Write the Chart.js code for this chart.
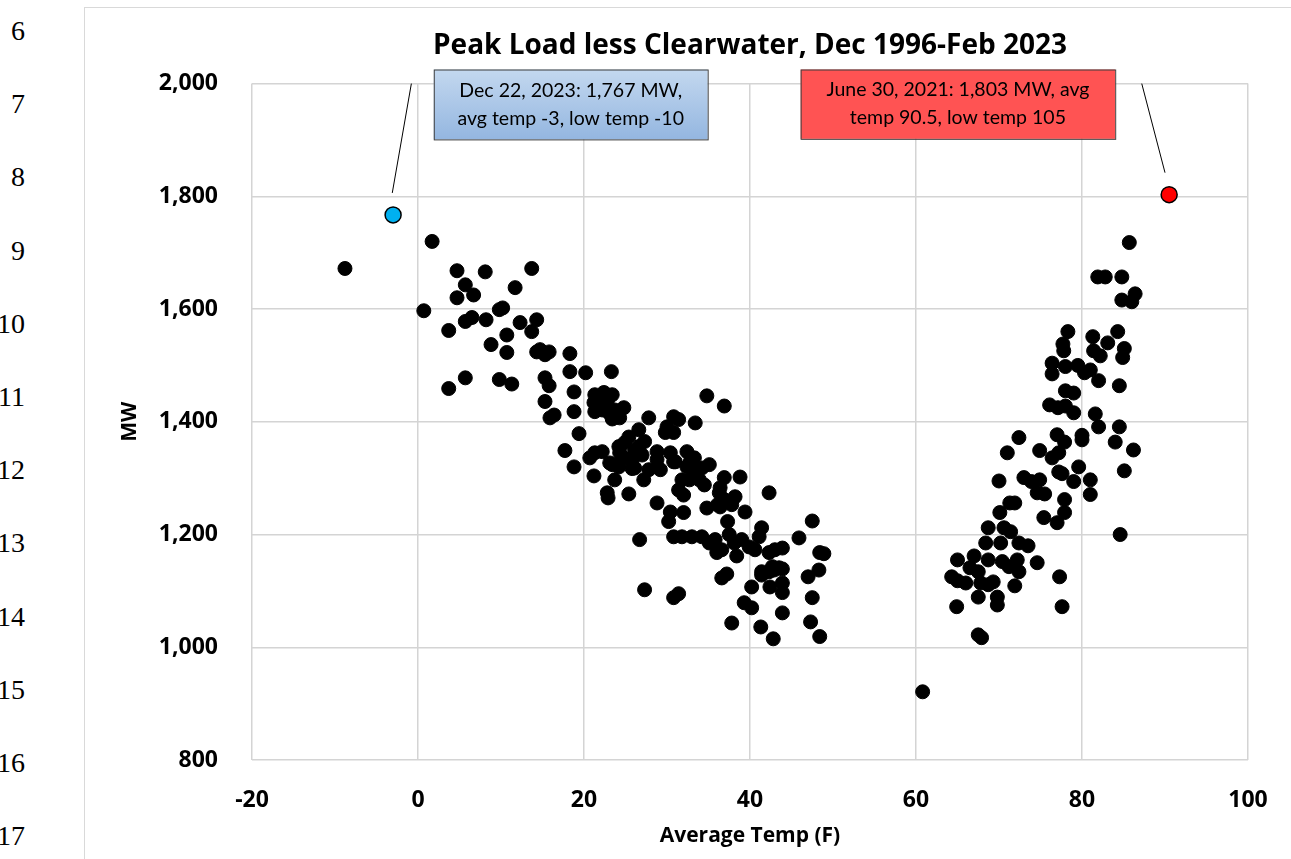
<!DOCTYPE html>
<html>
<head>
<meta charset="utf-8">
<script src="https://cdn.jsdelivr.net/npm/chart.js@4.4.1/dist/chart.umd.min.js"></script>
<style>
  body { margin: 0; background: #fff; width: 1291px; height: 859px; overflow: hidden; position: relative; }
  #frame { position: absolute; left: 84px; top: 7px; width: 1240px; height: 880px; border: 1px solid #d9d9d9; }
  #wrap { position: absolute; left: 85px; top: 8px; width: 1206px; height: 851px; }
  .row { position: absolute; right: 1266px; font: 28px "Liberation Serif", serif; line-height: 28px; color: #000; }
</style>
</head>
<body>
<div id="rows"></div>
<div id="frame"></div>
<div id="wrap"><canvas id="scatter" width="1206" height="851"></canvas></div>
<script>
// cold side (winter peaks)
const coldTemp = [-8.8, 1.7, 0.7, 3.7, 3.7, 4.7, 4.7, 5.7, 5.7, 5.7, 6.5, 6.7, 8.1, 8.2, 8.8, 9.8, 10.2, 9.8, 10.7, 10.7,
  11.3, 11.7, 12.3, 13.7, 13.7, 14.3, 14.3, 14.7, 15.3, 15.8, 15.3, 15.8, 15.3, 15.9, 16.4, 17.7, 18.3, 18.3, 18.8, 18.8,
  18.8, 19.4, 20.2, 20.7, 21.2, 21.3, 22.4, 23.4, 21.2, 21.9, 22.8, 21.3, 22.2, 23.0, 23.7, 24.8, 23.4, 24.3, 27.8, 21.3,
  22.2, 23.4, 22.8, 22.9, 23.3, 23.7, 24.2, 24.3, 24.6, 25.4, 26.6, 27.3, 25.4, 26.6, 25.8, 27.0, 24.9, 26.1, 25.8, 23.1,
  24.2, 26.1, 28.8, 28.8, 30.4, 30.8, 27.8, 27.2, 25.4, 26.7, 27.3, 28.8, 30.8, 31.4, 30.0, 29.8, 30.8, 33.4, 32.4, 33.3,
  32.4, 33.3, 34.2, 35.1, 31.8, 32.7, 33.9, 34.5, 31.4, 32.0, 36.9, 36.4, 36.3, 38.8, 38.2, 37.8, 36.4, 34.8, 39.4, 30.4,
  30.2, 32.0, 37.3, 30.8, 31.8, 33.0, 34.2, 35.1, 35.8, 36.6, 36.0, 37.5, 38.1, 39.0, 38.4, 39.9, 40.6, 41.4, 41.1, 42.3,
  43.0, 37.2, 36.6, 41.4, 42.7, 43.5, 34.8, 36.9, 42.3, 47.5, 45.9, 48.4, 48.9, 48.3, 47.0, 47.5, 47.3, 48.4, 37.8, 41.3,
  42.8, 43.9, 39.3, 40.2, 43.9, 43.9, 42.4, 40.2, 41.4, 42.3, 42.9, 43.9, 43.9, 30.8, 31.4, 36.1, 36.9, 32.8, 31.0, 29.2];
const coldMW = [1672, 1720, 1597, 1562, 1459, 1668, 1620, 1643, 1578, 1478, 1585, 1625, 1666, 1581, 1537, 1599, 1602, 1475, 1554, 1523,
  1467, 1638, 1576, 1672, 1560, 1581, 1524, 1528, 1519, 1524, 1478, 1464, 1436, 1407, 1412, 1349, 1521, 1489, 1453, 1418,
  1320, 1379, 1487, 1336, 1304, 1448, 1452, 1448, 1434, 1430, 1436, 1418, 1421, 1416, 1421, 1425, 1405, 1407, 1407, 1345,
  1347, 1324, 1274, 1265, 1489, 1297, 1356, 1345, 1338, 1373, 1386, 1365, 1334, 1356, 1317, 1341, 1363, 1349, 1333, 1327,
  1320, 1318, 1347, 1333, 1345, 1329, 1315, 1297, 1272, 1191, 1102, 1256, 1409, 1404, 1391, 1381, 1381, 1398, 1347, 1336,
  1320, 1315, 1318, 1324, 1297, 1297, 1297, 1288, 1279, 1270, 1301, 1283, 1274, 1302, 1267, 1253, 1249, 1247, 1240, 1240,
  1223, 1239, 1223, 1196, 1196, 1196, 1196, 1185, 1191, 1173, 1168, 1200, 1185, 1191, 1162, 1178, 1173, 1212, 1196, 1168,
  1173, 1130, 1123, 1134, 1143, 1141, 1446, 1428, 1274, 1224, 1194, 1168, 1166, 1137, 1125, 1088, 1045, 1019, 1043, 1036,
  1015, 1061, 1079, 1070, 1097, 1114, 1107, 1107, 1128, 1134, 1137, 1139, 1176, 1088, 1095, 1253, 1262, 1329, 1329, 1315];

// hot side (summer peaks)
const hotTemp = [60.8, 64.3, 65.0, 66.0, 65.0, 67.0, 66.5, 67.5, 67.8, 68.7, 69.3, 67.5, 69.8, 69.8, 64.9, 67.5, 67.9, 68.7, 68.4, 68.7,
  70.1, 71.3, 71.9, 70.6, 71.4, 70.2, 72.4, 73.5, 70.4, 71.2, 72.2, 72.4, 71.9, 74.6, 74.6, 75.5, 75.4, 77.0, 77.3, 77.6,
  85.7, 81.9, 82.8, 84.8, 86.4, 84.8, 86.0, 78.3, 81.3, 84.3, 83.1, 85.1, 84.9, 77.7, 77.8, 81.4, 82.2, 76.4, 78.0, 79.5,
  81.0, 76.4, 80.3, 82.0, 84.5, 78.0, 79.0, 76.1, 77.1, 78.0, 79.0, 81.6, 82.0, 84.5, 84.0, 86.2, 85.1, 72.4, 71.0, 74.9,
  77.0, 77.9, 77.2, 76.4, 80.0, 80.0, 79.6, 77.2, 77.6, 79.0, 81.0, 81.0, 70.0, 73.0, 73.9, 74.9, 77.9, 77.9, 84.6];
const hotMW = [921, 1125, 1118, 1114, 1155, 1162, 1141, 1134, 1114, 1111, 1116, 1089, 1089, 1075, 1072, 1022, 1017, 1155, 1185, 1212,
  1239, 1256, 1256, 1212, 1205, 1185, 1185, 1180, 1152, 1143, 1155, 1134, 1109, 1150, 1274, 1272, 1230, 1221, 1125, 1072,
  1718, 1657, 1657, 1657, 1627, 1616, 1613, 1560, 1551, 1560, 1540, 1530, 1514, 1538, 1526, 1526, 1517, 1504, 1498, 1500,
  1492, 1485, 1487, 1473, 1464, 1455, 1451, 1430, 1425, 1428, 1416, 1414, 1391, 1391, 1364, 1350, 1313, 1372, 1345, 1349,
  1377, 1364, 1345, 1336, 1376, 1368, 1320, 1311, 1308, 1294, 1297, 1271, 1295, 1301, 1294, 1297, 1262, 1239, 1200];

// record days
const coldRecord = { temp: -3, mw: 1767 };
const hotRecord = { temp: 90.5, mw: 1803 };
const coldNote = ['Dec 22, 2023: 1,767 MW,', 'avg temp -3, low temp -10'];
const hotNote = ['June 30, 2021: 1,803 MW, avg', 'temp 90.5, low temp 105'];
// callout boxes and leader lines in data units: [x1, y1, x2, y2]
const coldBox = [1.9, 2025, 34.9, 1901];
const hotBox = [46.1, 2025, 84.0, 1902];
const coldLeader = [-0.8, 2000, -3.1, 1806];
const hotLeader = [87.2, 2000, 90.0, 1842];

const rowNums = [6, 7, 8, 9, 10, 11, 12, 13, 14, 15, 16, 17];

const rowsDiv = document.getElementById('rows');
rowNums.forEach((n, i) => {
  const d = document.createElement('div');
  d.className = 'row';
  d.style.top = (17 + i * 73.2) + 'px';
  d.textContent = n;
  rowsDiv.appendChild(d);
});

const pairs = (xs, ys) => xs.map((x, i) => ({ x: x, y: ys[i] }));
const gridCol = '#d4d4d4';
const tickFont = { family: 'Open Sans', size: 23, weight: 'bold' };
const axisFont = { family: 'Open Sans', size: 21, weight: 'bold' };

const callouts = {
  id: 'callouts',
  afterDatasetsDraw(chart) {
    const ctx = chart.ctx, xs = chart.scales.x, ys = chart.scales.y;
    const line = (l) => {
      ctx.beginPath();
      ctx.moveTo(xs.getPixelForValue(l[0]), ys.getPixelForValue(l[1]));
      ctx.lineTo(xs.getPixelForValue(l[2]), ys.getPixelForValue(l[3]));
      ctx.strokeStyle = '#000';
      ctx.lineWidth = 1;
      ctx.stroke();
    };
    const box = (b, fill, lines) => {
      const x1 = xs.getPixelForValue(b[0]), y1 = ys.getPixelForValue(b[1]);
      const x2 = xs.getPixelForValue(b[2]), y2 = ys.getPixelForValue(b[3]);
      let f = fill;
      if (Array.isArray(fill)) {
        f = ctx.createLinearGradient(0, y1, 0, y2);
        f.addColorStop(0, fill[0]);
        f.addColorStop(1, fill[1]);
      }
      ctx.fillStyle = f;
      ctx.fillRect(x1, y1, x2 - x1, y2 - y1);
      ctx.strokeStyle = '#404040';
      ctx.lineWidth = 1;
      ctx.strokeRect(x1 + 0.5, y1 + 0.5, x2 - x1, y2 - y1);
      ctx.fillStyle = '#000';
      ctx.font = '19.5px Lato';
      ctx.textAlign = 'center';
      ctx.textBaseline = 'middle';
      const cx = (x1 + x2) / 2, cy = (y1 + y2) / 2;
      ctx.fillText(lines[0], cx, cy - 14);
      ctx.fillText(lines[1], cx, cy + 14);
    };
    line(coldLeader);
    line(hotLeader);
    box(coldBox, ['#c3d8ef', '#94b6e0'], coldNote);
    box(hotBox, '#ff5353', hotNote);
  }
};

new Chart(document.getElementById('scatter'), {
  type: 'scatter',
  data: {
    datasets: [
      { data: pairs(coldTemp, coldMW), backgroundColor: '#000', borderColor: '#000', pointRadius: 7, borderWidth: 1 },
      { data: pairs(hotTemp, hotMW), backgroundColor: '#000', borderColor: '#000', pointRadius: 7, borderWidth: 1 },
      { data: [{ x: coldRecord.temp, y: coldRecord.mw }], backgroundColor: '#00b0f0', borderColor: '#000', pointRadius: 8, borderWidth: 1.5 },
      { data: [{ x: hotRecord.temp, y: hotRecord.mw }], backgroundColor: '#ff0000', borderColor: '#000', pointRadius: 8, borderWidth: 1.5 }
    ]
  },
  options: {
    responsive: false,
    animation: false,
    layout: { padding: { top: 10, left: 0, right: 43, bottom: 0 } },
    plugins: {
      legend: { display: false },
      tooltip: { enabled: false },
      title: {
        display: true,
        fullSize: false,
        text: 'Peak Load less Clearwater, Dec 1996-Feb 2023',
        color: '#000',
        font: { family: 'Open Sans', size: 28, weight: 'bold' },
        padding: { top: 11, bottom: 21 }
      }
    },
    scales: {
      x: {
        type: 'linear', min: -20, max: 100,
        ticks: { stepSize: 20, color: '#000', font: tickFont, padding: 27 },
        grid: { color: gridCol, lineWidth: 1.5, drawTicks: false },
        border: { display: false },
        title: { display: true, text: 'Average Temp (F)', color: '#000', font: axisFont, padding: { top: 0, bottom: 10 } },
        afterFit(s) { s.height = 99; s.paddingRight = 0; s.paddingLeft = 0; }
      },
      y: {
        min: 800, max: 2000,
        ticks: { stepSize: 200, color: '#000', font: tickFont, padding: 34, callback: (v) => v.toLocaleString('en-US') },
        grid: { color: gridCol, lineWidth: 1.5, drawTicks: false },
        border: { display: false },
        title: { display: true, text: 'MW', color: '#000', font: axisFont, padding: { top: 32, bottom: 0 } },
        afterFit(s) { s.width = 167; }
      }
    }
  },
  plugins: [callouts]
});
</script>
</body>
</html>
